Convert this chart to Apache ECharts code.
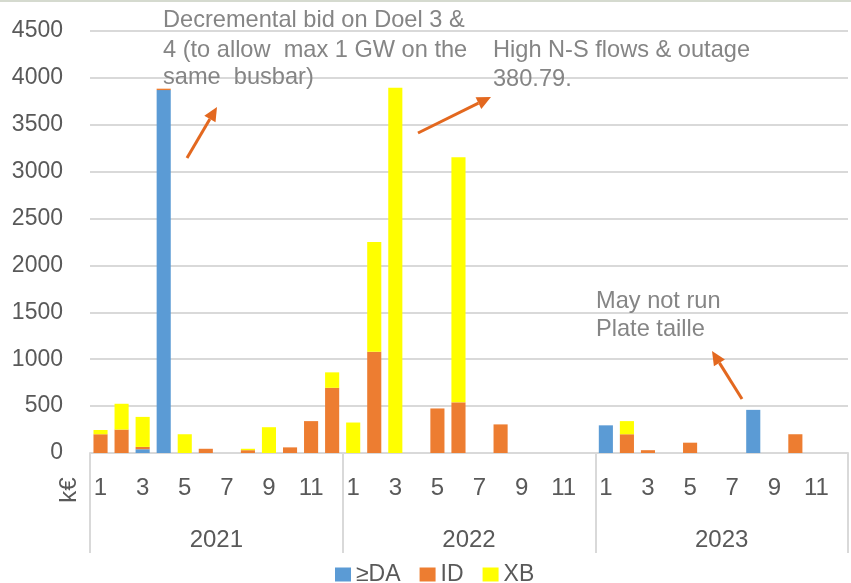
<!DOCTYPE html>
<html>
<head>
<meta charset="utf-8">
<script src="https://cdn.jsdelivr.net/npm/echarts@6/dist/echarts.min.js"></script>
<style>
  html, body { margin: 0; padding: 0; background: #ffffff; }
  #chart { width: 851px; height: 583px; }
</style>
</head>
<body>
<div id="chart"></div>
<script>
// Years and months of the category axis
const years = ['2021', '2022', '2023'];
const months = [1, 2, 3, 4, 5, 6, 7, 8, 9, 10, 11, 12];

// Monthly costs in k€ (Jan 2021 .. Dec 2023)
const daValues = [
  0, 0, 40, 3870, 0, 0, 0, 0, 0, 0, 0, 0,
  0, 0, 0, 0, 0, 0, 0, 0, 0, 0, 0, 0,
  295, 0, 0, 0, 0, 0, 0, 460, 0, 0, 0, 0
];
const idValues = [
  200, 250, 25, 15, 0, 45, 0, 30, 0, 60, 340, 695,
  0, 1080, 0, 0, 475, 540, 0, 305, 0, 0, 0, 0,
  0, 200, 30, 0, 110, 0, 0, 0, 0, 200, 0, 0
];
const xbValues = [
  45, 275, 320, 0, 200, 0, 0, 15, 275, 0, 0, 165,
  325, 1170, 3895, 0, 0, 2615, 0, 0, 0, 0, 0, 0,
  0, 140, 0, 0, 0, 0, 0, 0, 0, 0, 0, 0
];

// Y axis ticks
const yMin = 0, yMax = 4500, yStep = 500;

// Callout notes
const notes = [
  { lines: ['Decremental bid on Doel 3 &', '4 (to allow  max 1 GW on the', 'same  busbar)'] },
  { lines: ['High N-S flows & outage', '380.79.'] },
  { lines: ['May not run', 'Plate taille'] }
];

const categories = [];
years.forEach(y => months.forEach(m => categories.push(y + '-' + m)));

const COLORS = { da: '#5B9BD5', id: '#ED7D31', xb: '#FFFF00' };
const GRID_COLOR = '#d9d9d9';
const LABEL_COLOR = '#595959';
const NOTE_COLOR = '#858585';
const ARROW_COLOR = '#E3681F';
const FONT = '"Liberation Sans", Arial, sans-serif';

function arrow(x1, y1, x2, y2) {
  const ang = Math.atan2(y2 - y1, x2 - x1);
  const len = 14, half = 6.5;
  const bx = x2 - len * Math.cos(ang), by = y2 - len * Math.sin(ang);
  const nx = -Math.sin(ang), ny = Math.cos(ang);
  return [
    { type: 'line', shape: { x1: x1, y1: y1, x2: bx, y2: by },
      style: { stroke: ARROW_COLOR, lineWidth: 3 }, z: 10 },
    { type: 'polygon', shape: { points: [[x2, y2], [bx + nx * half, by + ny * half], [bx - nx * half, by - ny * half]] },
      style: { fill: ARROW_COLOR }, z: 10 }
  ];
}

function noteText(lines, x, ys) {
  return lines.map((t, i) => ({
    type: 'text', x: x, y: ys[i], z: 10,
    style: { text: t, font: '23.6px ' + FONT, fill: NOTE_COLOR, verticalAlign: 'middle', align: 'left' }
  }));
}

const graphics = [
  { type: 'rect', shape: { x: 0, y: 0, width: 851, height: 2 }, style: { fill: '#d5dacf' } },
  { type: 'text', x: 69, y: 490, rotation: Math.PI / 2,
    style: { text: 'k€', font: '24px ' + FONT, fill: LABEL_COLOR, align: 'center', verticalAlign: 'middle' } }
]
  .concat(noteText(notes[0].lines, 163, [20, 50, 77]))
  .concat(noteText(notes[1].lines, 493, [50, 79]))
  .concat(noteText(notes[2].lines, 596, [301, 329]))
  .concat(arrow(187, 158, 217, 107))
  .concat(arrow(418, 133, 491, 97))
  .concat(arrow(742, 399, 712, 351));

const chart = echarts.init(document.getElementById('chart'), null, { renderer: 'canvas' });

chart.setOption({
  animation: false,
  backgroundColor: '#ffffff',
  textStyle: { fontFamily: FONT },
  grid: { left: 90, right: 3, top: 31, bottom: 130, containLabel: false },
  legend: {
    top: 558, left: 330,
    itemWidth: 16, itemHeight: 14, itemGap: 19,
    icon: 'rect',
    textStyle: { fontSize: 23, color: LABEL_COLOR, fontFamily: FONT },
    data: ['≥DA', 'ID', 'XB']
  },
  xAxis: [
    {
      type: 'category',
      data: categories,
      boundaryGap: true,
      axisLine: { show: true, lineStyle: { color: GRID_COLOR, width: 2 } },
      axisTick: { show: false },
      axisLabel: {
        interval: 1, margin: 23, fontSize: 24, color: LABEL_COLOR,
        formatter: v => v.split('-')[1]
      },
      splitLine: { show: false }
    },
    {
      type: 'category',
      data: years,
      position: 'bottom',
      boundaryGap: true,
      axisLine: { show: false },
      axisTick: { show: true, length: 100, lineStyle: { color: GRID_COLOR, width: 2 } },
      axisLabel: { margin: 75, fontSize: 24, color: LABEL_COLOR },
      splitLine: { show: false }
    }
  ],
  yAxis: {
    type: 'value',
    min: yMin, max: yMax, interval: yStep,
    axisLine: { show: false },
    axisTick: { show: false },
    axisLabel: { margin: 27, fontSize: 23, color: LABEL_COLOR, formatter: v => String(v) },
    splitLine: { lineStyle: { color: GRID_COLOR, width: 2 } }
  },
  series: [
    { name: '≥DA', type: 'bar', stack: 'cost', data: daValues, barCategoryGap: '33%',
      itemStyle: { color: COLORS.da } },
    { name: 'ID', type: 'bar', stack: 'cost', data: idValues, barCategoryGap: '33%',
      itemStyle: { color: COLORS.id } },
    { name: 'XB', type: 'bar', stack: 'cost', data: xbValues, barCategoryGap: '33%',
      itemStyle: { color: COLORS.xb } }
  ],
  graphic: graphics
});
</script>
</body>
</html>
